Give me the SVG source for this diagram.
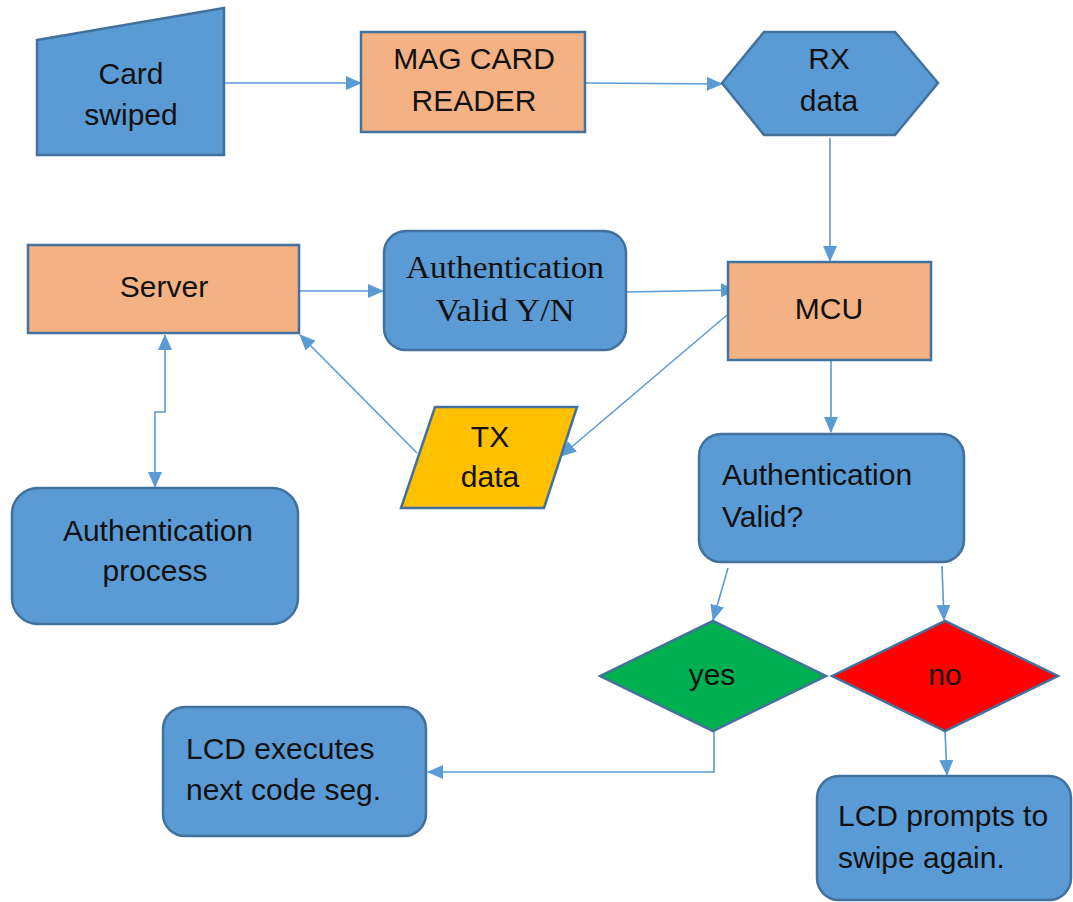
<svg xmlns="http://www.w3.org/2000/svg" width="1073" height="902" viewBox="0 0 1073 902">
<style>
.blue{fill:#5B9BD5;stroke:#41719C;stroke-width:2.5}
.orange{fill:#F4B183;stroke:#41719C;stroke-width:2.5}
.yellow{fill:#FFC000;stroke:#41719C;stroke-width:2.5}
.green{fill:#00B050;stroke:#41719C;stroke-width:2.5}
.red{fill:#FF0000;stroke:#41719C;stroke-width:2.5}
.t{font-family:"Liberation Sans",Arial,sans-serif;font-size:30px;fill:#111;text-anchor:middle}
.tl{font-family:"Liberation Sans",Arial,sans-serif;font-size:30px;fill:#111;text-anchor:start}
.ts{font-family:"Liberation Serif","Times New Roman",serif;font-size:31px;fill:#111;text-anchor:middle}
.c{fill:none;stroke:#5B9BD5;stroke-width:1.6}
</style>
<defs>
<marker id="ah" markerUnits="userSpaceOnUse" markerWidth="16" markerHeight="14" refX="15" refY="7" orient="auto">
<path d="M0,0 L16,7 L0,14 Z" fill="#5B9BD5"/>
</marker>
<marker id="as" markerUnits="userSpaceOnUse" markerWidth="16" markerHeight="14" refX="1" refY="7" orient="auto">
<path d="M16,0 L0,7 L16,14 Z" fill="#5B9BD5"/>
</marker>
</defs>
<g id="connectors">
<path class="c" d="M224,83 L361,83" marker-end="url(#ah)"/>
<path class="c" d="M585,83 L722,84" marker-end="url(#ah)"/>
<path class="c" d="M830,138 L830,261" marker-end="url(#ah)"/>
<path class="c" d="M299,291 L383,291" marker-end="url(#ah)"/>
<path class="c" d="M626,292 L736,290" marker-end="url(#ah)"/>
<path class="c" d="M727,315 L561,456" marker-end="url(#ah)"/>
<path class="c" d="M417,453 L300,335" marker-end="url(#ah)"/>
<path class="c" d="M165,335 L165,412 L155,412 L155,487" marker-start="url(#as)" marker-end="url(#ah)"/>
<path class="c" d="M831,360 L831,432" marker-end="url(#ah)"/>
<path class="c" d="M728,568 L713,620" marker-end="url(#ah)"/>
<path class="c" d="M942,566 L944,620" marker-end="url(#ah)"/>
<path class="c" d="M714,731 L714,772 L428,772" marker-end="url(#ah)"/>
<path class="c" d="M945,731 L947,775" marker-end="url(#ah)"/>
</g>
<g id="card-swiped">
<polygon class="blue" points="37,40 224,8 224,155 37,155"/>
<text class="t" x="131" y="84">Card</text>
<text class="t" x="131" y="125">swiped</text>
</g>
<g id="mag-card-reader">
<rect class="orange" x="361" y="32" width="224" height="100"/>
<text class="t" x="474" y="69">MAG CARD</text>
<text class="t" x="474" y="111">READER</text>
</g>
<g id="rx-data">
<polygon class="blue" points="722,83 764,32 895,32 938,83 895,135 764,135"/>
<text class="t" x="829" y="69">RX</text>
<text class="t" x="829" y="111">data</text>
</g>
<g id="mcu">
<rect class="orange" x="728" y="262" width="203" height="98"/>
<text class="t" x="829" y="319">MCU</text>
</g>
<g id="server">
<rect class="orange" x="28" y="245" width="271" height="88"/>
<text class="t" x="164" y="297">Server</text>
</g>
<g id="auth-yn">
<rect class="blue" x="384" y="231" width="242" height="119" rx="22"/>
<text class="ts" x="505" y="278" textLength="198" lengthAdjust="spacingAndGlyphs">Authentication</text>
<text class="ts" x="505" y="321" textLength="139" lengthAdjust="spacingAndGlyphs">Valid Y/N</text>
</g>
<g id="tx-data">
<polygon class="yellow" points="435,407 577,407 544,508 401,508"/>
<text class="t" x="490" y="447">TX</text>
<text class="t" x="490" y="487">data</text>
</g>
<g id="auth-process">
<rect class="blue" x="12" y="488" width="286" height="136" rx="26"/>
<text class="t" x="158" y="541">Authentication</text>
<text class="t" x="155" y="581">process</text>
</g>
<g id="auth-valid">
<rect class="blue" x="699" y="434" width="265" height="128" rx="22"/>
<text class="tl" x="722" y="485">Authentication</text>
<text class="tl" x="722" y="527">Valid?</text>
</g>
<g id="yes">
<polygon class="green" points="600,676 713,621 826,676 713,731"/>
<text class="t" x="712" y="685">yes</text>
</g>
<g id="no">
<polygon class="red" points="832,676 945,621 1058,676 945,731"/>
<text class="t" x="945" y="685">no</text>
</g>
<g id="lcd-executes">
<rect class="blue" x="163" y="707" width="263" height="129" rx="22"/>
<text class="tl" x="186" y="759">LCD executes</text>
<text class="tl" x="186" y="800">next code seg.</text>
</g>
<g id="lcd-prompts">
<rect class="blue" x="817" y="776" width="254" height="124" rx="22"/>
<text class="tl" x="838" y="826">LCD prompts to</text>
<text class="tl" x="838" y="868">swipe again.</text>
</g>
</svg>
